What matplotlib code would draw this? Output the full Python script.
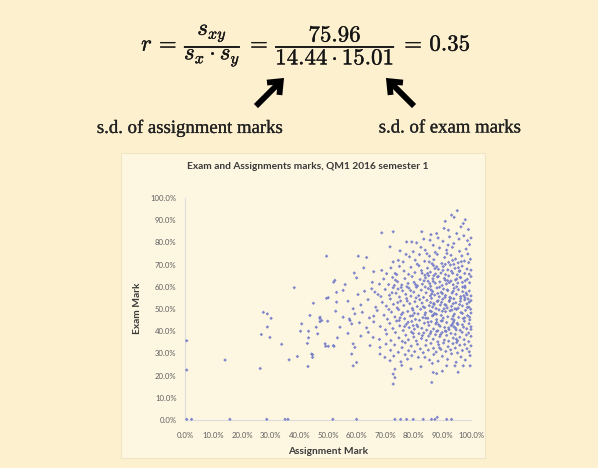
import matplotlib
matplotlib.use("Agg")
import matplotlib.pyplot as plt
from matplotlib.ticker import FuncFormatter, MultipleLocator
from matplotlib.patches import Rectangle, FancyArrowPatch
import matplotlib.patheffects as pe

# ---------------- data (assignment %, exam %) ----------------
band_top = [(95.2, 94.3), (93.2, 92.3), (94.1, 91.3), (97.3, 88.5), (90.6, 86.3), (92.1, 85.5),
            (99.1, 85.8), (88.0, 84.0), (68.8, 84.3), (72.8, 84.8), (82.8, 84.8), (96.5, 87.0),
            (91.0, 89.5), (98.0, 90.2)]
band_75 = [(77.5, 80.2), (79.3, 80.2), (81.0, 79.8), (85.7, 81.0), (86.8, 78.7), (71.7, 78.0),
           (75.2, 76.2), (88.5, 82.0), (90.2, 80.5), (92.5, 82.5), (94.0, 79.5), (95.8, 81.5),
           (97.5, 83.0), (99.5, 79.0), (89.0, 77.5), (91.5, 76.5), (93.5, 77.8), (96.0, 76.0),
           (98.3, 77.0), (100.0, 82.0), (84.0, 76.5), (82.5, 77.8), (87.5, 75.5), (79.8, 75.8),
           (95.0, 84.0), (92.0, 78.8), (98.8, 80.8), (86.0, 83.5), (83.5, 81.5)]
band_70 = [(49.5, 73.8), (60.6, 73.8), (63.5, 73.2), (72.8, 71.2), (74.6, 71.9), (76.3, 71.2),
           (78.5, 73.5), (80.5, 72.0), (82.0, 74.5), (83.8, 71.5), (85.5, 73.8), (87.0, 72.2),
           (88.2, 74.6), (89.8, 70.5), (90.8, 73.2), (92.2, 71.0), (93.0, 74.2), (94.6, 72.5),
           (95.5, 70.8), (96.8, 73.9), (97.7, 71.6), (98.9, 74.8), (99.8, 72.4), (86.4, 70.4),
           (81.2, 70.2), (91.6, 75.0), (94.0, 70.1), (99.2, 70.9), (84.6, 74.9), (77.3, 74.6)]
band_65 = [(59.2, 66.2), (68.8, 67.4), (70.5, 65.9), (72.0, 68.5), (73.5, 66.0), (75.0, 69.2),
           (76.6, 67.1), (78.2, 65.6), (79.0, 68.8), (80.4, 66.4), (81.8, 69.5), (82.7, 67.3),
           (83.9, 65.2), (84.8, 68.4), (85.8, 66.6), (86.9, 69.6), (87.6, 65.8), (88.6, 67.9),
           (89.5, 66.2), (90.3, 69.1), (91.1, 65.5), (91.9, 67.6), (92.8, 69.8), (93.6, 66.1),
           (94.4, 68.3), (95.2, 65.4), (96.1, 67.2), (96.9, 69.3), (97.8, 66.0), (98.6, 68.0),
           (99.4, 65.7), (100.0, 67.5), (93.2, 67.0), (88.0, 69.0), (85.2, 65.0), (74.0, 65.5),
           (66.0, 66.8), (62.5, 68.5)]
band_60 = [(52.4, 62.9), (52.0, 62.1), (38.2, 59.6), (65.5, 62.0), (69.5, 63.5), (71.2, 61.0),
           (72.6, 64.2), (74.3, 62.3), (75.8, 60.8), (76.9, 63.7), (78.0, 61.5), (79.4, 64.6),
           (80.1, 62.0), (81.3, 60.4), (82.2, 63.3), (83.0, 61.2), (84.1, 64.0), (85.0, 62.5),
           (85.9, 60.2), (86.7, 63.6), (87.5, 61.6), (88.3, 64.4), (89.1, 62.2), (89.9, 60.6),
           (90.7, 63.8), (91.4, 61.3), (92.2, 64.9), (93.0, 62.6), (93.8, 60.9), (94.6, 63.1),
           (95.4, 61.7), (96.2, 64.3), (97.0, 62.0), (97.9, 60.3), (98.7, 63.4), (99.5, 61.8),
           (100.0, 64.6), (87.0, 65.0), (91.8, 62.8), (95.0, 60.0), (83.6, 62.7), (77.6, 60.0),
           (73.2, 60.6), (68.0, 61.2), (60.0, 64.0), (56.0, 61.0)]
band_55 = [(53.0, 57.5), (49.5, 54.8), (65.3, 59.1), (66.4, 57.6), (55.3, 58.4), (50.1, 55.1),
           (60.5, 56.5), (62.8, 58.0), (68.5, 55.6), (70.0, 58.8), (71.5, 56.2), (72.8, 59.6),
           (73.8, 57.1), (75.0, 55.4), (76.1, 58.2), (77.2, 56.6), (78.3, 59.4), (79.0, 55.8),
           (80.0, 57.6), (80.9, 59.8), (81.7, 56.0), (82.6, 58.5), (83.4, 55.2), (84.3, 57.3),
           (85.1, 59.2), (85.8, 55.9), (86.6, 57.9), (87.3, 56.3), (88.1, 59.5), (88.9, 55.5),
           (89.6, 57.5), (90.4, 59.0), (91.1, 56.1), (91.9, 58.3), (92.6, 55.3), (93.4, 57.2),
           (94.1, 59.3), (94.9, 56.6), (95.6, 58.7), (96.4, 55.6), (97.1, 57.8), (97.9, 59.6),
           (98.6, 56.4), (99.4, 58.1), (100.0, 55.9), (86.0, 58.6), (90.0, 56.9), (93.8, 58.0),
           (97.5, 56.0), (84.0, 59.9), (88.4, 57.0), (74.5, 59.0), (67.5, 56.5)]
band_50 = [(44.9, 52.6), (53.0, 53.1), (58.8, 50.1), (57.0, 53.5), (61.5, 51.8), (64.0, 54.2),
           (66.7, 50.8), (69.0, 53.0), (70.4, 51.3), (71.8, 54.5), (72.9, 52.1), (74.2, 50.5),
           (75.4, 53.6), (76.5, 51.6), (77.5, 54.7), (78.6, 52.4), (79.5, 50.3), (80.4, 53.3),
           (81.2, 51.1), (82.1, 54.2), (82.9, 52.7), (83.8, 50.6), (84.6, 53.9), (85.4, 51.5),
           (86.2, 54.8), (87.0, 52.5), (87.8, 50.2), (88.5, 53.7), (89.3, 51.8), (90.1, 54.4),
           (90.9, 52.0), (91.7, 50.5), (92.4, 53.4), (93.2, 51.2), (94.0, 54.6), (94.7, 52.8),
           (95.5, 50.4), (96.3, 53.5), (97.0, 51.4), (97.8, 54.1), (98.6, 52.3), (99.3, 50.8),
           (100.0, 53.8), (86.6, 50.9), (89.7, 53.0), (92.9, 54.9), (96.0, 52.0), (99.0, 54.5),
           (80.8, 55.0), (83.3, 51.0), (85.9, 52.9), (91.3, 51.6), (94.4, 50.1)]
band_45 = [(52.7, 49.0), (27.4, 48.5), (28.8, 47.8), (30.1, 45.8), (43.7, 47.1), (47.2, 45.7),
           (59.4, 47.8), (55.3, 46.3), (47.2, 46.3), (62.0, 48.5), (64.5, 46.0), (67.2, 49.3),
           (69.6, 47.2), (70.8, 45.4), (72.2, 48.6), (73.4, 46.4), (74.7, 49.7), (75.7, 47.5),
           (76.8, 45.6), (77.9, 48.9), (78.8, 46.8), (79.7, 49.5), (80.6, 45.3), (81.5, 47.8),
           (82.4, 49.9), (83.2, 46.1), (84.1, 48.3), (84.9, 45.8), (85.7, 49.1), (86.5, 46.9),
           (87.3, 48.0), (88.0, 45.2), (88.8, 49.6), (89.6, 47.1), (90.3, 45.9), (91.1, 48.8),
           (91.9, 46.5), (92.7, 49.2), (93.4, 45.5), (94.2, 47.7), (95.0, 49.8), (95.7, 46.2),
           (96.5, 48.4), (97.3, 45.7), (98.1, 49.4), (98.8, 47.0), (99.6, 45.1), (100.0, 48.2),
           (86.9, 47.3), (90.0, 49.0), (93.8, 46.8), (97.0, 48.0), (83.9, 47.4), (80.2, 48.1),
           (75.2, 46.0), (71.3, 49.8), (66.0, 46.8), (57.5, 45.5)]
band_40 = [(40.8, 43.3), (57.7, 44.8), (58.3, 43.3), (47.8, 44.8), (49.9, 44.5), (47.2, 44.3),
           (40.4, 40.0), (43.2, 40.0), (28.8, 41.9), (45.9, 41.8), (54.2, 41.8), (61.0, 43.8),
           (63.5, 41.5), (66.0, 44.2), (68.3, 42.1), (70.1, 40.6), (71.6, 43.5), (72.7, 41.2),
           (74.0, 44.6), (75.1, 42.4), (76.3, 40.3), (77.4, 43.1), (78.4, 41.6), (79.3, 44.4),
           (80.2, 40.9), (81.1, 42.8), (82.0, 44.9), (82.8, 41.3), (83.7, 43.6), (84.5, 40.5),
           (85.3, 42.6), (86.1, 44.3), (86.9, 41.0), (87.7, 43.3), (88.4, 40.2), (89.2, 42.2),
           (90.0, 44.7), (90.8, 41.7), (91.5, 43.9), (92.3, 40.7), (93.1, 42.5), (93.9, 44.1),
           (94.6, 41.4), (95.4, 43.0), (96.2, 40.4), (97.0, 42.9), (97.7, 44.5), (98.5, 41.1),
           (99.3, 43.4), (100.0, 40.8), (88.0, 44.0), (91.0, 40.1), (94.0, 42.0), (97.4, 41.8),
           (85.0, 44.0), (79.8, 42.5)]
band_35 = [(46.4, 38.8), (53.3, 37.0), (43.2, 37.0), (64.1, 39.5), (65.8, 37.2), (29.7, 37.2),
           (26.7, 38.5), (0.6, 35.7), (68.0, 36.3), (70.5, 38.7), (72.0, 35.8), (73.6, 39.4),
           (74.8, 37.0), (76.0, 35.4), (77.2, 38.2), (78.1, 36.1), (79.2, 39.6), (80.0, 37.4),
           (80.9, 35.6), (81.8, 38.9), (82.7, 36.7), (83.5, 39.2), (84.4, 35.9), (85.2, 37.8),
           (86.0, 39.8), (86.8, 36.4), (87.6, 38.4), (88.4, 35.2), (89.1, 37.6), (89.9, 39.4),
           (90.7, 36.0), (91.5, 38.1), (92.2, 35.5), (93.0, 39.0), (93.8, 36.9), (94.5, 38.6),
           (95.3, 35.7), (96.1, 37.3), (96.9, 39.5), (97.6, 36.2), (98.4, 38.3), (99.2, 35.3),
           (100.0, 37.7), (88.0, 39.9), (91.3, 39.9), (94.9, 36.4), (83.0, 38.0), (61.5, 37.8),
           (57.0, 39.0)]
band_30 = [(42.8, 34.5), (33.8, 34.1), (49.2, 33.2), (50.1, 33.2), (52.1, 33.2), (49.0, 34.3),
           (51.9, 33.5), (58.8, 34.3), (59.4, 32.7), (64.7, 33.5), (68.2, 32.7), (70.3, 34.2),
           (71.9, 31.4), (73.3, 33.8), (74.6, 30.5), (75.9, 32.6), (77.0, 34.8), (78.2, 31.2),
           (79.1, 33.3), (80.3, 30.8), (81.3, 34.1), (82.3, 32.0), (83.3, 30.3), (84.2, 33.6),
           (85.1, 31.5), (86.0, 34.5), (86.9, 32.3), (87.8, 30.6), (88.7, 33.9), (89.5, 31.8),
           (90.4, 34.7), (91.2, 30.9), (92.0, 33.0), (92.9, 31.6), (93.7, 34.4), (94.5, 32.4),
           (95.3, 30.2), (96.1, 33.7), (97.0, 31.3), (97.8, 34.0), (98.6, 32.1), (99.4, 30.7),
           (100.0, 33.4), (89.0, 32.5), (95.0, 34.9)]
band_25 = [(39.3, 28.6), (44.6, 29.4), (44.6, 28.2), (36.4, 27.1), (44.3, 29.7), (58.3, 29.7),
           (60.0, 25.9), (68.2, 29.7), (69.9, 28.2), (71.7, 26.7), (79.3, 29.0), (81.6, 28.2),
           (83.9, 28.2), (99.7, 29.0), (14.0, 27.0), (73.0, 28.8), (75.5, 26.2), (77.0, 29.4),
           (85.5, 27.0), (87.0, 29.5), (88.5, 26.5), (90.0, 28.7), (91.8, 27.3), (93.2, 29.8),
           (94.8, 26.0), (96.5, 28.4), (98.0, 27.0), (86.5, 25.5), (77.8, 27.4)]
band_low = [(58.8, 24.4), (43.0, 24.1), (26.3, 23.2), (0.6, 22.5), (73.4, 22.9), (72.8, 20.7),
            (86.8, 21.4), (88.0, 20.9), (91.5, 24.4), (94.4, 24.4), (97.3, 24.4), (99.7, 24.4),
            (79.0, 23.0), (82.5, 24.0), (90.0, 22.0), (95.5, 21.5), (75.8, 24.6), (73.4, 19.1),
            (72.8, 16.2), (86.3, 16.9)]
band_zero = [(0.6, 0.3), (2.3, 0.3), (15.7, 0.3), (28.6, 0.3), (35.0, 0.3), (36.0, 0.3),
             (51.7, 0.3), (60.0, 0.3), (73.4, 0.3), (75.4, 0.3), (77.5, 0.3), (79.8, 0.3),
             (83.3, 0.3), (86.2, 0.3), (87.4, 0.3), (88.2, 1.2), (91.5, 0.3), (93.2, 0.3)]
core_extra = [(84.8, 66.0), (85.6, 61.4), (86.3, 56.8), (87.1, 52.0), (87.9, 47.6), (88.7, 42.9),
              (89.4, 38.5), (90.2, 67.4), (91.0, 63.0), (91.7, 58.6), (92.5, 53.9), (93.3, 49.5),
              (94.1, 45.0), (94.8, 40.6), (95.6, 68.6), (96.4, 64.1), (97.1, 59.9), (97.9, 55.1),
              (98.7, 50.7), (99.5, 46.3), (100.0, 42.0), (85.4, 71.2), (86.8, 62.4), (88.2, 53.4),
              (89.6, 44.6), (91.0, 70.1), (92.4, 61.9), (93.8, 52.4), (95.2, 43.6), (96.6, 71.3),
              (98.0, 62.7), (99.4, 53.1), (84.2, 45.9), (85.8, 38.9), (87.4, 68.2), (89.0, 59.8),
              (90.6, 50.1), (92.2, 41.5), (93.6, 71.9), (95.0, 63.5), (96.4, 54.7), (97.8, 46.0),
              (99.2, 39.2), (86.2, 48.8), (88.6, 64.7), (90.9, 55.2), (93.5, 43.2), (95.9, 66.9),
              (98.3, 57.2), (99.9, 49.9), (72.4, 57.3), (74.4, 52.9), (76.2, 48.3), (78.0, 44.0),
              (79.8, 39.0), (73.6, 63.0), (75.6, 59.7), (77.7, 53.6), (79.6, 47.0), (81.4, 42.0),
              (82.9, 66.1), (76.8, 42.1), (80.6, 61.0), (78.9, 58.3), (74.9, 44.8)]

all_bands = [band_top, band_75, band_70, band_65, band_60, band_55, band_50, band_45,
             band_40, band_35, band_30, band_25, band_low, band_zero, core_extra]

chart_title = "Exam and Assignments marks, QM1 2016 semester 1"
x_label = "Assignment Mark"
y_label = "Exam Mark"
formula = r"$r\,=\,\dfrac{s_{xy}}{s_x\cdot s_y}\,=\,\dfrac{75.96}{14.44\cdot 15.01}\,=\,0.35$"
left_note = "s.d. of assignment marks"
right_note = "s.d. of exam marks"

# ---------------- figure ----------------
W, H = 598, 468
outer_bg = "#fdf0cf"
inner_bg = "#fdf6e1"
fig = plt.figure(figsize=(W / 100, H / 100), dpi=100, facecolor=outer_bg)

def fx(px):
    return px / W

def fy(py):
    return 1 - py / H

# inner chart panel (drawn behind everything)
panel = Rectangle((fx(121), fy(458)), fx(485) - fx(121), fy(153) - fy(458),
                  transform=fig.transFigure, facecolor=inner_bg,
                  edgecolor="#efe4c4", linewidth=0.8, zorder=-10)
fig.patches.append(panel)

# formula
plt.rcParams["mathtext.fontset"] = "cm"
fig.text(fx(306), fy(46), formula, ha="center", va="center", fontsize=16.5, color="#151515",
         path_effects=[pe.withStroke(linewidth=0.25, foreground="#151515")])

# arrows
for (x0, y0), (x1, y1) in [((254, 108), (286, 76)), ((416, 108), (384, 76))]:
    arr = FancyArrowPatch((fx(x0), fy(y0)), (fx(x1), fy(y1)), transform=fig.transFigure,
                          arrowstyle="->,head_length=0.55,head_width=0.45",
                          mutation_scale=14, lw=4.2, color="black", capstyle="butt",
                          joinstyle="miter", zorder=5)
    fig.patches.append(arr)

serif = ["Liberation Serif", "DejaVu Serif"]
for xc, txt in [(190, left_note), (450, right_note)]:
    fig.text(fx(xc), fy(128), txt, ha="center", va="center", fontsize=13.5,
             family=serif, color="#222222",
             path_effects=[pe.withStroke(linewidth=0.2, foreground="#222222")])

# scatter chart
ax = fig.add_axes([fx(185), fy(420), fx(471) - fx(185), fy(198) - fy(420)], zorder=5)
ax.set_facecolor("none")
for band in all_bands:
    xs = [p[0] for p in band]
    ys = [p[1] for p in band]
    ax.scatter(xs, ys, s=3.2, marker="D", color="#727ac8", edgecolors="none",
               alpha=0.9, clip_on=False, zorder=3)

ax.set_xlim(0, 100)
ax.set_ylim(0, 100)
ax.xaxis.set_major_locator(MultipleLocator(10))
ax.yaxis.set_major_locator(MultipleLocator(10))
pct = FuncFormatter(lambda v, _: f"{v:.1f}%")
ax.xaxis.set_major_formatter(pct)
ax.yaxis.set_major_formatter(pct)
for s in ["top", "right"]:
    ax.spines[s].set_visible(False)
for s in ["left", "bottom"]:
    ax.spines[s].set_color("#dcdcdc")
    ax.spines[s].set_linewidth(0.8)
ax.tick_params(length=0, labelsize=5.6, labelcolor="#5f5f5f")
ax.tick_params(axis="x", pad=9)
ax.tick_params(axis="y", pad=6)
for lab in ax.get_xticklabels() + ax.get_yticklabels():
    lab.set_family("Lato")

fig.text(fx(308), fy(166), chart_title, ha="center", va="center", fontsize=7.3,
         fontweight="bold", family="Lato", color="#3a3a3a")
fig.text(fx(328), fy(451), x_label, ha="center", va="center", fontsize=7.3,
         fontweight="bold", family="Lato", color="#3a3a3a")
fig.text(fx(137), fy(308), y_label, ha="center", va="center", fontsize=7.3,
         fontweight="bold", family="Lato", color="#3a3a3a", rotation=90)

fig.savefig("out.png", dpi=100, facecolor=outer_bg)
